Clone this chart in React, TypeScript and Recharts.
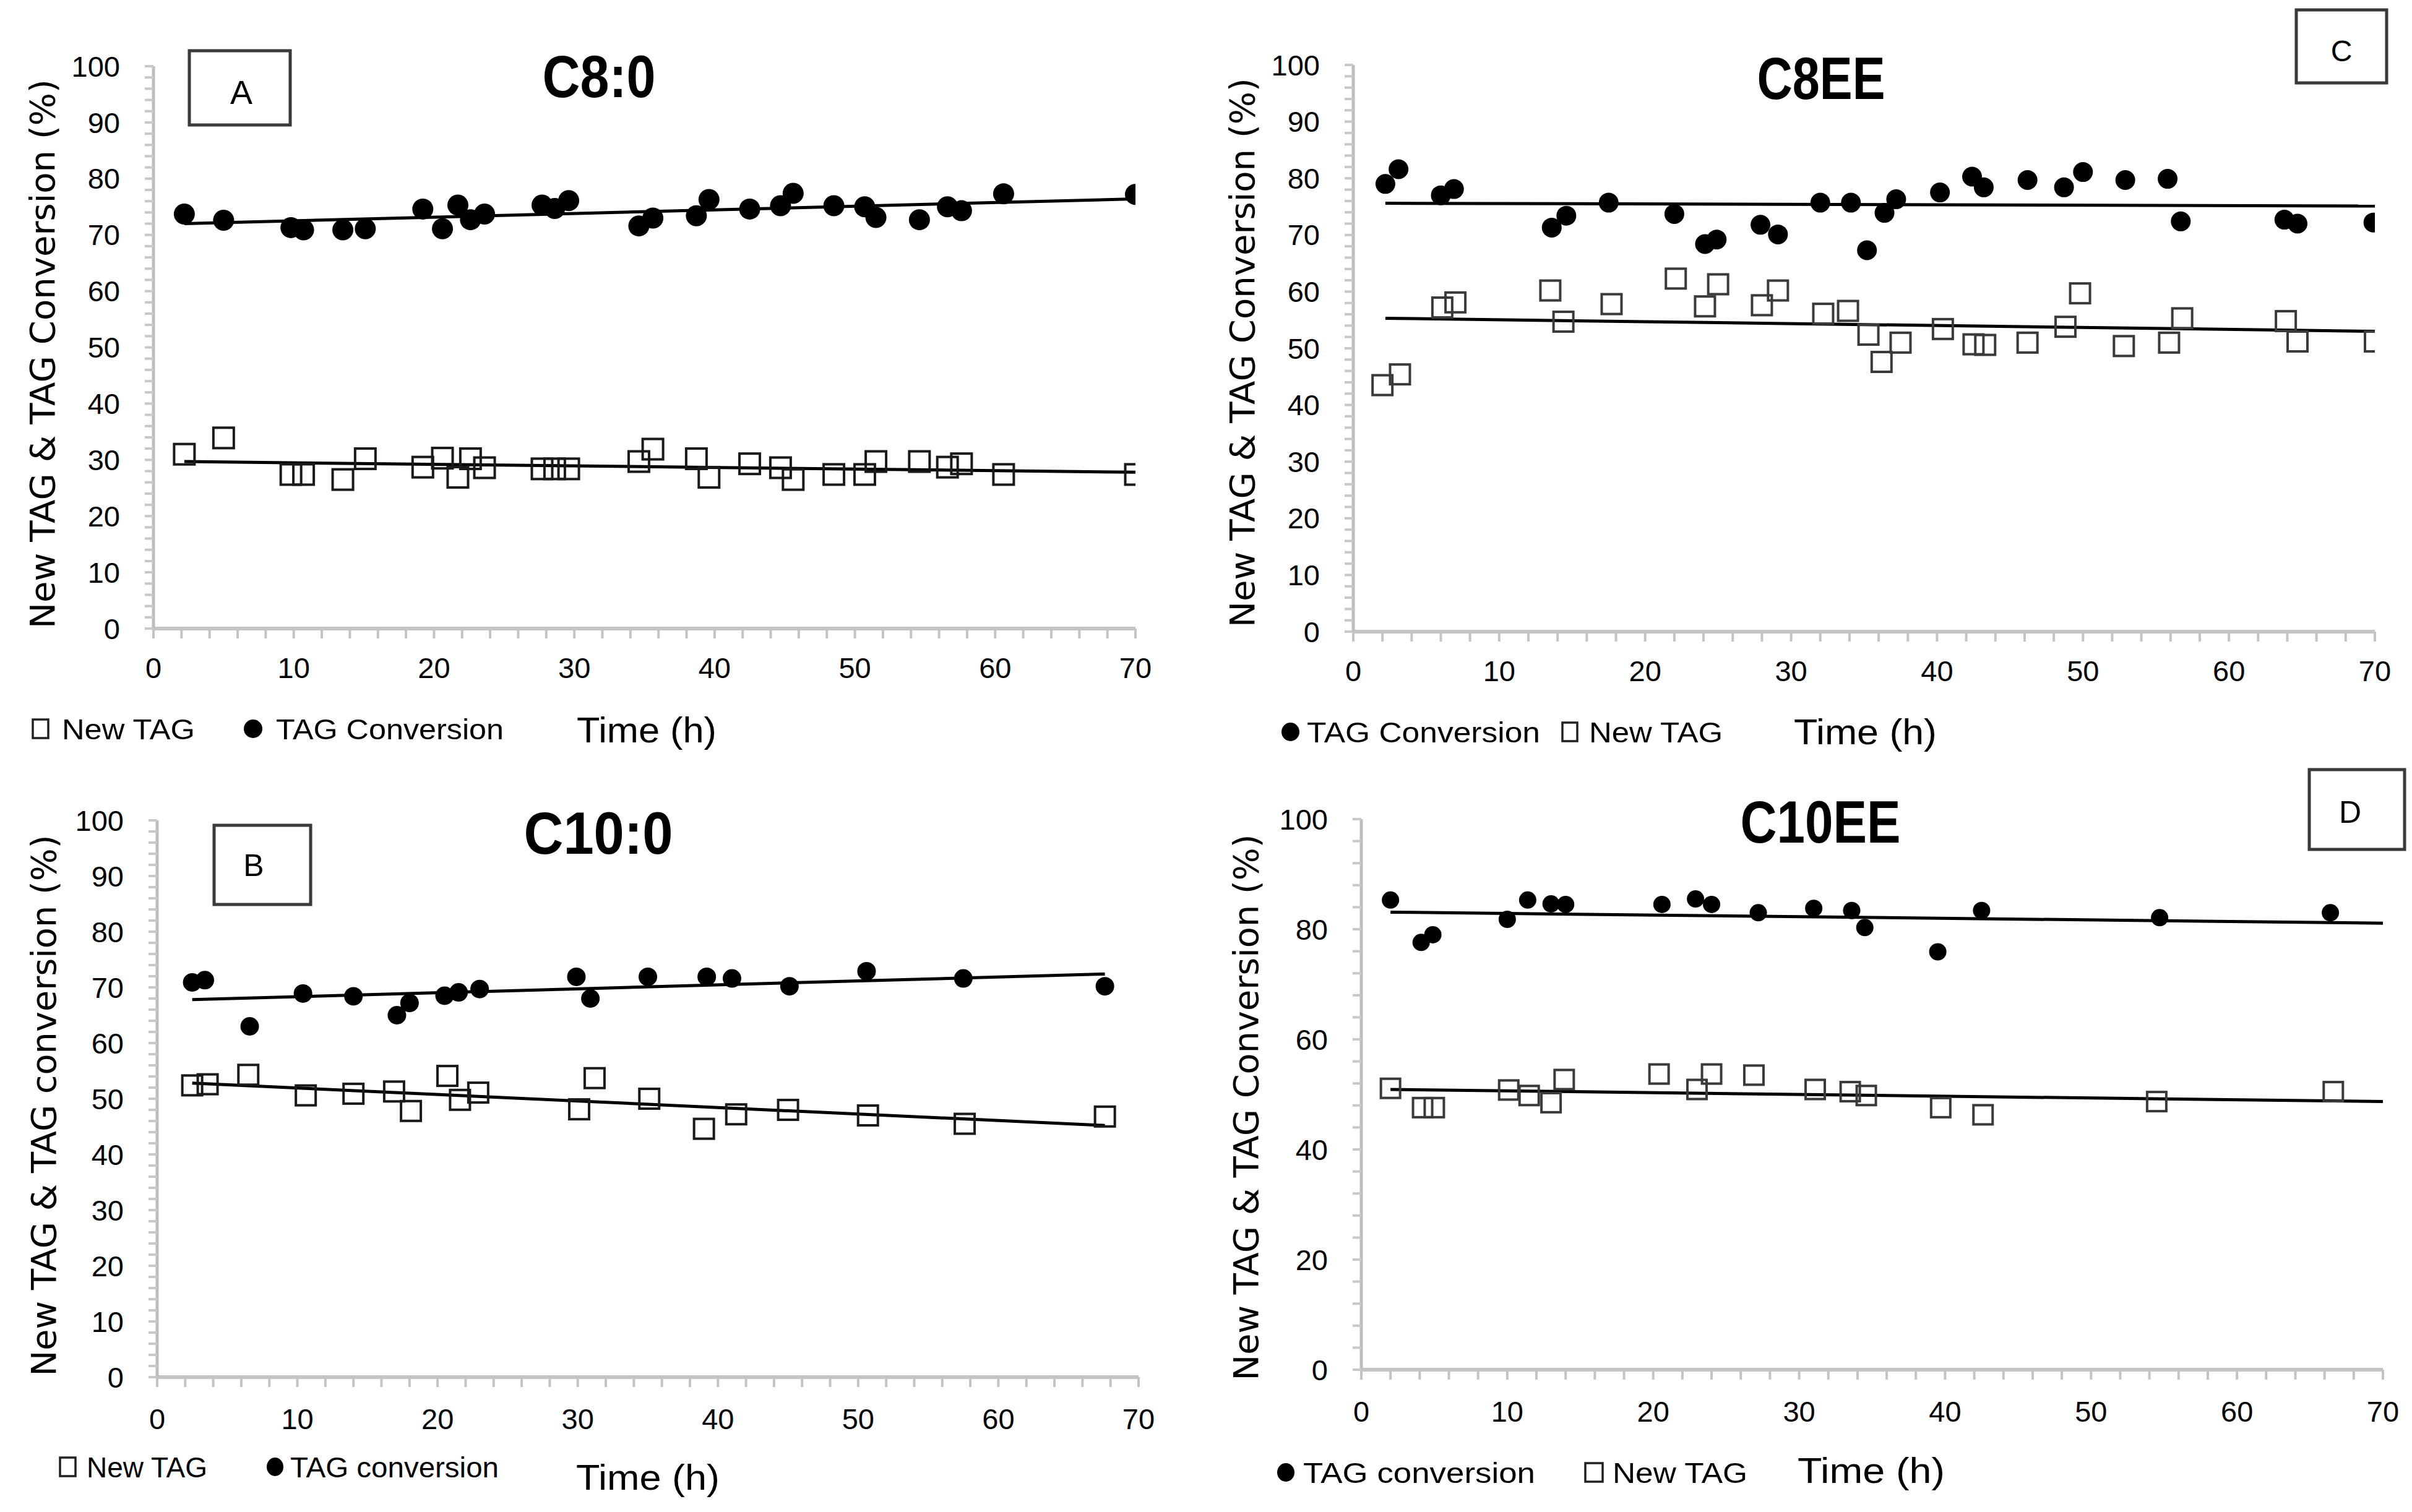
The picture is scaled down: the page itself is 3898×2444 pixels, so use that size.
import React from 'react';
import { ScatterChart, Scatter, XAxis, YAxis, ReferenceLine } from 'recharts';

// ---------- DATA ----------
// Panel A: C8:0
const timeA = [2.2, 5.0, 9.8, 10.7, 13.5, 15.1, 19.2, 20.6, 21.7, 22.6, 23.6, 27.7, 28.6, 29.6, 34.6, 35.6, 38.7, 39.6, 42.5, 44.7, 45.6, 48.5, 50.7, 51.5, 54.6, 56.6, 57.6, 60.6, 70.0];
const convA = [73.7, 72.6, 71.3, 70.9, 70.9, 71.1, 74.6, 71.1, 75.3, 72.7, 73.7, 75.3, 74.7, 76.1, 71.6, 73.0, 73.4, 76.3, 74.6, 75.2, 77.4, 75.2, 75.0, 73.1, 72.7, 75.0, 74.3, 77.3, 77.2];
const newA = [31.0, 33.9, 27.4, 27.4, 26.5, 30.2, 28.7, 30.3, 26.9, 30.2, 28.6, 28.4, 28.4, 28.4, 29.7, 31.9, 30.2, 26.9, 29.3, 28.6, 26.5, 27.4, 27.4, 29.7, 29.7, 28.7, 29.3, 27.4, 27.4];
const trendConvA = [{ x: 2.2, y: 72.0 }, { x: 70, y: 76.4 }];
const trendNewA = [{ x: 2.2, y: 29.7 }, { x: 70, y: 27.8 }];

// Panel C: C8EE
const timeConvC = [2.2, 3.1, 6.0, 6.9, 13.6, 14.6, 17.5, 22.0, 24.1, 24.9, 27.9, 29.1, 32.0, 34.1, 35.2, 36.4, 37.2, 40.2, 42.4, 43.2, 46.2, 48.7, 50.0, 52.9, 55.8, 56.7, 63.8, 64.7, 69.9];
const convC = [79.0, 81.6, 77.0, 78.1, 71.3, 73.4, 75.7, 73.7, 68.4, 69.2, 71.8, 70.1, 75.7, 75.7, 67.3, 73.9, 76.3, 77.5, 80.3, 78.4, 79.7, 78.4, 81.1, 79.7, 79.9, 72.4, 72.7, 72.0, 72.2];
const timeNewC = [2.0, 3.2, 6.1, 7.0, 13.5, 14.4, 17.7, 22.1, 24.1, 25.0, 28.0, 29.1, 32.2, 33.9, 35.3, 36.2, 37.5, 40.4, 42.5, 43.3, 46.2, 48.8, 49.8, 52.8, 55.9, 56.8, 63.9, 64.7, 70.0];
const newC = [43.5, 45.4, 57.2, 58.1, 60.2, 54.7, 57.8, 62.3, 57.4, 61.3, 57.6, 60.2, 56.1, 56.6, 52.4, 47.6, 51.0, 53.4, 50.7, 50.6, 51.0, 53.8, 59.7, 50.4, 51.0, 55.3, 54.8, 51.2, 51.2];
const trendConvC = [{ x: 2.2, y: 75.6 }, { x: 70, y: 75.1 }];
const trendNewC = [{ x: 2.2, y: 55.3 }, { x: 70, y: 53.0 }];

// Panel B: C10:0
const timeConvB = [2.5, 3.4, 6.6, 10.4, 14.0, 17.1, 18.0, 20.5, 21.5, 23.0, 29.9, 30.9, 35.0, 39.2, 41.0, 45.1, 50.6, 57.5, 67.6];
const convB = [70.9, 71.3, 63.0, 68.9, 68.4, 65.0, 67.2, 68.5, 69.1, 69.7, 71.9, 68.0, 71.9, 71.9, 71.6, 70.2, 72.9, 71.6, 70.2];
const timeNewB = [2.5, 3.6, 6.5, 10.6, 14.0, 16.9, 18.1, 20.7, 21.6, 22.9, 30.1, 31.2, 35.1, 39.0, 41.3, 45.0, 50.7, 57.6, 67.6];
const newB = [52.4, 52.6, 54.3, 50.6, 50.9, 51.3, 47.8, 54.1, 49.8, 51.1, 48.1, 53.7, 50.0, 44.6, 47.2, 48.0, 47.0, 45.5, 46.8];
const trendConvB = [{ x: 2.5, y: 67.8 }, { x: 67.6, y: 72.4 }];
const trendNewB = [{ x: 2.5, y: 52.8 }, { x: 67.6, y: 45.2 }];

// Panel D: C10EE
const timeConvD = [2.0, 4.1, 4.9, 10.0, 11.4, 13.0, 14.0, 20.6, 22.9, 24.0, 27.2, 31.0, 33.6, 34.5, 39.5, 42.5, 54.7, 66.4];
const convD = [85.3, 77.6, 79.0, 81.8, 85.3, 84.6, 84.5, 84.5, 85.5, 84.5, 83.0, 83.8, 83.4, 80.3, 75.9, 83.4, 82.1, 83.0];
const timeNewD = [2.0, 4.2, 5.0, 10.1, 11.5, 13.0, 13.9, 20.4, 23.0, 24.0, 26.9, 31.1, 33.5, 34.6, 39.7, 42.6, 54.5, 66.6];
const newD = [51.1, 47.6, 47.6, 50.8, 49.8, 48.5, 52.7, 53.7, 50.9, 53.7, 53.5, 50.9, 50.5, 49.8, 47.6, 46.3, 48.7, 50.5];
const trendConvD = [{ x: 2.0, y: 83.1 }, { x: 70, y: 81.1 }];
const trendNewD = [{ x: 2.0, y: 50.9 }, { x: 70, y: 48.7 }];

// Ticks
const xTicks = [0, 2, 4, 6, 8, 10, 12, 14, 16, 18, 20, 22, 24, 26, 28, 30, 32, 34, 36, 38, 40, 42, 44, 46, 48, 50, 52, 54, 56, 58, 60, 62, 64, 66, 68, 70];
const yTicks2 = [0, 2, 4, 6, 8, 10, 12, 14, 16, 18, 20, 22, 24, 26, 28, 30, 32, 34, 36, 38, 40, 42, 44, 46, 48, 50, 52, 54, 56, 58, 60, 62, 64, 66, 68, 70, 72, 74, 76, 78, 80, 82, 84, 86, 88, 90, 92, 94, 96, 98, 100];
const yTicks4 = [0, 4, 8, 12, 16, 20, 24, 28, 32, 36, 40, 44, 48, 52, 56, 60, 64, 68, 72, 76, 80, 84, 88, 92, 96, 100];

const titles = ['C8:0', 'C8EE', 'C10:0', 'C10EE'];
const boxLetters = ['A', 'C', 'B', 'D'];
const yLabels = [
  'New TAG & TAG Conversion (%)',
  'New TAG & TAG Conversion (%)',
  'New TAG & TAG conversion (%)',
  'New TAG & TAG Conversion (%)',
];
const legendNew = 'New TAG';
const legendConv = ['TAG Conversion', 'TAG Conversion', 'TAG conversion', 'TAG conversion'];
const xLabel = 'Time (h)';

const zip = (xs: number[], ys: number[]) => xs.map((x, i) => ({ x, y: ys[i] }));

// ---------- LAYOUT ----------
const TICK_FONT = 'Liberation Sans, Arial, sans-serif';
const LABEL_FONT = 'DejaVu Sans, Verdana, sans-serif';

type PanelCfg = {
  chart: [number, number, number, number];
  plot: { l: number; r: number; t: number; b: number };
  yTicks: number[];
  yMajor: number;
  tickMarginX: number;
  conv: { x: number; y: number }[];
  neu: { x: number; y: number }[];
  tConv: { x: number; y: number }[];
  tNew: { x: number; y: number }[];
  circ: number;
  sq: number;
  sqStroke: string;
};

const panels: PanelCfg[] = [
  {
    chart: [0, 0, 1900, 1230],
    plot: { l: 248, r: 1835, t: 107, b: 1016 },
    yTicks: yTicks2, yMajor: 10, tickMarginX: 29,
    conv: zip(timeA, convA), neu: zip(timeA, newA), tConv: trendConvA, tNew: trendNewA,
    circ: 17, sq: 33, sqStroke: '#1a1a1a',
  },
  {
    chart: [1950, 0, 1948, 1230],
    plot: { l: 2187, r: 3838, t: 105, b: 1021 },
    yTicks: yTicks2, yMajor: 10, tickMarginX: 29,
    conv: zip(timeConvC, convC), neu: zip(timeNewC, newC), tConv: trendConvC, tNew: trendNewC,
    circ: 16, sq: 32, sqStroke: '#3a3a3a',
  },
  {
    chart: [0, 1230, 1900, 1214],
    plot: { l: 254, r: 1840, t: 1326, b: 2226 },
    yTicks: yTicks2, yMajor: 10, tickMarginX: 33,
    conv: zip(timeConvB, convB), neu: zip(timeNewB, newB), tConv: trendConvB, tNew: trendNewB,
    circ: 15, sq: 32, sqStroke: '#1a1a1a',
  },
  {
    chart: [1950, 1230, 1948, 1214],
    plot: { l: 2200, r: 3851, t: 1324, b: 2214 },
    yTicks: yTicks4, yMajor: 20, tickMarginX: 33,
    conv: zip(timeConvD, convD), neu: zip(timeNewD, newD), tConv: trendConvD, tNew: trendNewD,
    circ: 14, sq: 31, sqStroke: '#3a3a3a',
  },
];

const Y_W = 160;
const X_H = 120;

function Panel({ cfg }: { cfg: PanelCfg }) {
  const [cx, cy, cw, ch] = cfg.chart;
  const { l, r, t, b } = cfg.plot;
  const margin = {
    left: l - cx - Y_W,
    right: cx + cw - r,
    top: t - cy,
    bottom: cy + ch - b - X_H,
  };
  const rad = cfg.circ;
  const s = cfg.sq;
  const circleShape = (p: any) => <circle cx={p.cx} cy={p.cy} r={rad} fill="#000" />;
  const squareShape = (p: any) => (
    <rect x={p.cx - s / 2} y={p.cy - s / 2} width={s} height={s} fill="#fff" fillOpacity={0} stroke={cfg.sqStroke} strokeWidth={4} />
  );
  return (
    <div style={{ position: 'absolute', left: cx, top: cy, width: cw, height: ch }}>
      <ScatterChart width={cw} height={ch} margin={margin}>
        <XAxis
          type="number"
          dataKey="x"
          domain={[0, 70]}
          ticks={xTicks}
          interval={0}
          height={X_H}
          tickFormatter={(v: number) => (v % 10 === 0 ? String(v) : '')}
          tickSize={16}
          tickMargin={cfg.tickMarginX + 2}
          tickLine={{ stroke: '#c4c4c4', strokeWidth: 4 }}
          axisLine={{ stroke: '#c4c4c4', strokeWidth: 6 }}
          tick={{ fill: '#000', fontSize: 47, fontFamily: TICK_FONT }}
          allowDataOverflow
        />
        <YAxis
          type="number"
          dataKey="y"
          domain={[0, 100]}
          ticks={cfg.yTicks}
          interval={0}
          width={Y_W}
          tickFormatter={(v: number) => (v % cfg.yMajor === 0 ? String(v) : '')}
          tickSize={14}
          tickMargin={40}
          tickLine={{ stroke: '#c8c8c8', strokeWidth: 4 }}
          axisLine={{ stroke: '#bdbdbd', strokeWidth: 5 }}
          tick={{ fill: '#000', fontSize: 47, fontFamily: TICK_FONT }}
          allowDataOverflow
        />
        <Scatter data={cfg.neu} shape={squareShape} isAnimationActive={false} />
        <Scatter data={cfg.conv} shape={circleShape} isAnimationActive={false} />
        <ReferenceLine segment={cfg.tNew as any} stroke="#000" strokeWidth={5} ifOverflow="visible" />
        <ReferenceLine segment={cfg.tConv as any} stroke="#000" strokeWidth={5} ifOverflow="visible" />
      </ScatterChart>
    </div>
  );
}

// Overlay decorations (titles, letter boxes, axis titles, legends)
const deco = [
  {
    title: { x: 968, y: 157, w: 183 },
    box: { x: 306, y: 82, w: 163, h: 120, lx: 390, ly: 168, fs: 54 },
    ylab: { x: 69, y: 572, len: 888 },
    legend: [
      { kind: 'sq', mx: 50, mw: 31, tx: 100, tw: 215 },
      { kind: 'ci', mx: 392, mw: 34, tx: 446, tw: 368 },
    ],
    legBase: 1195,
    time: { x: 932, y: 1200, w: 226 },
  },
  {
    title: { x: 2943, y: 160, w: 207 },
    box: { x: 3711, y: 16, w: 146, h: 118, lx: 3784, ly: 99, fs: 48 },
    ylab: { x: 2008, y: 570, len: 888 },
    legend: [
      { kind: 'ci', mx: 2069, mw: 33, tx: 2112, tw: 377 },
      { kind: 'sq', mx: 2522, mw: 30, tx: 2568, tw: 216 },
    ],
    legBase: 1200,
    time: { x: 2899, y: 1203, w: 231 },
  },
  {
    title: { x: 967, y: 1380, w: 241 },
    box: { x: 346, y: 1334, w: 156, h: 128, lx: 410, ly: 1416, fs: 50 },
    ylab: { x: 71, y: 1787, len: 875 },
    legend: [
      { kind: 'sq', mx: 94, mw: 31, tx: 140, tw: 195 },
      { kind: 'ci', mx: 429, mw: 31, tx: 469, tw: 337 },
    ],
    legBase: 2388,
    time: { x: 931, y: 2408, w: 232 },
  },
  {
    title: { x: 2942, y: 1362, w: 259 },
    box: { x: 3732, y: 1244, w: 154, h: 129, lx: 3798, ly: 1330, fs: 50 },
    ylab: { x: 2014, y: 1790, len: 883 },
    legend: [
      { kind: 'ci', mx: 2062, mw: 32, tx: 2106, tw: 375 },
      { kind: 'sq', mx: 2559, mw: 34, tx: 2606, tw: 218 },
    ],
    legBase: 2397,
    time: { x: 2905, y: 2397, w: 238 },
  },
];

function Overlay() {
  return (
    <svg width={3898} height={2444} style={{ position: 'absolute', left: 0, top: 0, pointerEvents: 'none' }}>
      {deco.map((d, i) => (
        <g key={i}>
          <text
            x={d.title.x}
            y={d.title.y}
            textAnchor="middle"
            fontFamily="Liberation Sans Narrow, Liberation Sans, Arial, sans-serif"
            fontWeight="bold"
            fontSize={96}
            textLength={d.title.w}
            lengthAdjust="spacingAndGlyphs"
            fill="#000"
          >
            {titles[i]}
          </text>
          <rect x={d.box.x} y={d.box.y} width={d.box.w} height={d.box.h} fill="#fff" stroke="#3a3a3a" strokeWidth={5} />
          <text x={d.box.lx} y={d.box.ly} textAnchor="middle" fontFamily={TICK_FONT} fontSize={d.box.fs} fill="#000">
            {boxLetters[i]}
          </text>
          <text
            transform={`translate(${d.ylab.x},${d.ylab.y}) rotate(-90)`}
            textAnchor="middle"
            dominantBaseline="central"
            fontFamily={LABEL_FONT}
            fontSize={55}
            textLength={d.ylab.len}
            lengthAdjust="spacingAndGlyphs"
            fill="#000"
          >
            {yLabels[i]}
          </text>
          {d.legend.map((it, j) => (
            <g key={j}>
              {it.kind === 'sq' ? (
                <rect x={it.mx + 3} y={d.legBase - 32} width={it.mw - 6} height={30} fill="#fff" stroke="#222" strokeWidth={3.5} />
              ) : (
                <ellipse cx={it.mx + it.mw / 2} cy={d.legBase - 17} rx={it.mw / 2 - 2} ry={15} fill="#000" />
              )}
              <text
                x={it.tx}
                y={d.legBase}
                fontFamily={TICK_FONT}
                fontSize={47}
                textLength={it.tw}
                lengthAdjust="spacingAndGlyphs"
                fill="#000"
              >
                {it.kind === 'sq' ? legendNew : legendConv[i]}
              </text>
            </g>
          ))}
          <text
            x={d.time.x}
            y={d.time.y}
            fontFamily={TICK_FONT}
            fontSize={58}
            textLength={d.time.w}
            lengthAdjust="spacingAndGlyphs"
            fill="#000"
          >
            {xLabel}
          </text>
        </g>
      ))}
    </svg>
  );
}

export default function App() {
  return (
    <div style={{ position: 'absolute', left: 0, top: 0, width: 3898, height: 2444, background: '#fff', overflow: 'hidden' }}>
      {panels.map((p, i) => (
        <Panel key={i} cfg={p} />
      ))}
      <Overlay />
    </div>
  );
}
